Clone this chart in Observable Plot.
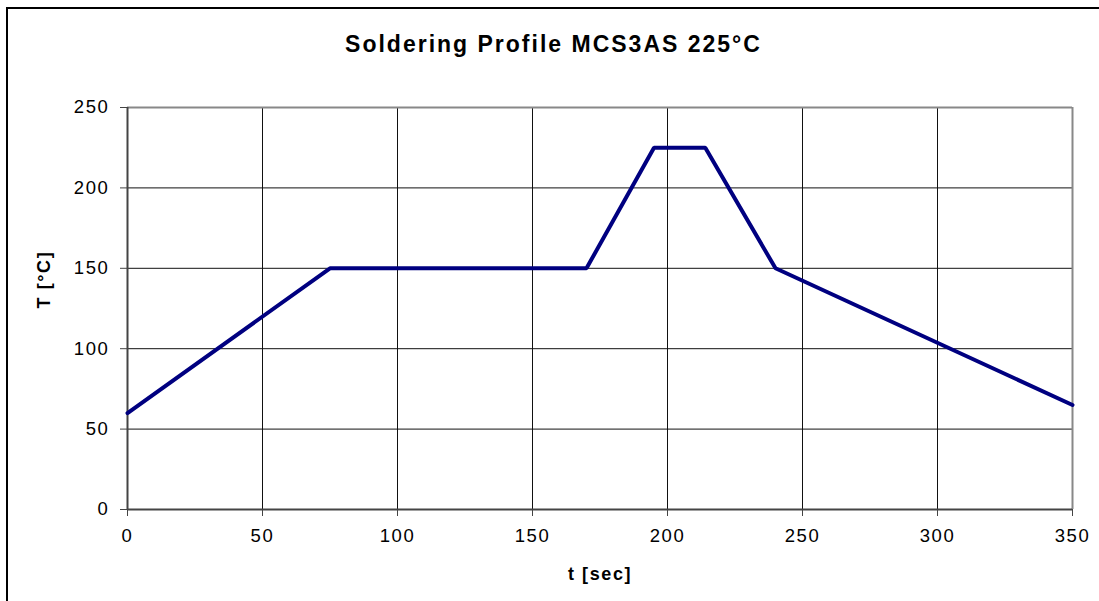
<!DOCTYPE html>
<html>
<head>
<meta charset="utf-8">
<script src="https://cdn.jsdelivr.net/npm/d3@7"></script>
<script src="https://cdn.jsdelivr.net/npm/@observablehq/plot@0.6"></script>
<style>
  html, body { margin: 0; padding: 0; background: #fff; width: 1099px; height: 601px; overflow: hidden; }
  #border { position: absolute; left: 6px; top: 7px; width: 1200px; height: 700px; border-left: 2px solid #000; border-top: 2px solid #000; }
  #title { position: absolute; left: 4px; top: 0; width: 1099px; height: 80px; text-align: center;
           font-family: "Liberation Sans", Arial, sans-serif; font-weight: bold; font-size: 23px; letter-spacing: 2px;
           line-height: 88px; color: #000; }
  #chart { position: absolute; left: 0; top: 80px; }
  #chart svg g[aria-label="x-axis tick label"] text,
  #chart svg g[aria-label="y-axis tick label"] text { letter-spacing: 1.6px; }
</style>
</head>
<body>
<div id="border"></div>
<div id="title">Soldering Profile MCS3AS 225°C</div>
<div id="chart"></div>
<script>
const timeSec = [0, 75, 170, 195, 214, 240, 350];
const tempC   = [60, 150, 150, 225, 225, 150, 65];
const xTicks = [0, 50, 100, 150, 200, 250, 300, 350];
const yTicks = [0, 50, 100, 150, 200, 250];
const xLabel = "t [sec]";
const yLabel = "T [°C]";

const data = timeSec.map((t, i) => ({t, T: tempC[i]}));

const plot = Plot.plot({
  width: 1099,
  height: 521,
  marginLeft: 127,
  marginRight: 27,
  marginTop: 27,
  marginBottom: 92,
  style: {fontFamily: "Liberation Sans, Arial, sans-serif", fontSize: "18.5px", background: "transparent", color: "#000"},
  x: {domain: [0, 350]},
  y: {domain: [0, 250]},
  marks: [
    Plot.gridX(xTicks, {stroke: "#111", strokeOpacity: 1, strokeWidth: 1}),
    Plot.gridY(yTicks, {stroke: "#111", strokeOpacity: 1, strokeWidth: 1}),
    Plot.ruleY([250], {stroke: "#888", strokeWidth: 2}),
    Plot.ruleX([350], {stroke: "#888", strokeWidth: 2}),
    Plot.ruleY([0], {stroke: "#444", strokeWidth: 2}),
    Plot.ruleX([0], {stroke: "#444", strokeWidth: 2}),
    Plot.axisX(xTicks, {tickSize: 7, tickPadding: 12, stroke: "#444", label: null, fontSize: 18.5}),
    Plot.axisY(yTicks, {tickSize: 7, tickPadding: 11, stroke: "#444", label: null, fontSize: 18.5}),
    Plot.text([xLabel], {frameAnchor: "bottom", dy: 65, lineAnchor: "middle", fontWeight: "bold", fontSize: 18}),
    Plot.text([yLabel], {frameAnchor: "left", dx: -83, rotate: -90, lineAnchor: "middle", fontWeight: "bold", fontSize: 18}),
    Plot.line(data, {x: "t", y: "T", stroke: "#000080", strokeWidth: 4, strokeLinejoin: "miter"})
  ]
});
d3.select(plot).selectAll("g[aria-label='text'] text").style("letter-spacing", "1.6px");
document.getElementById("chart").appendChild(plot);
</script>
</body>
</html>
